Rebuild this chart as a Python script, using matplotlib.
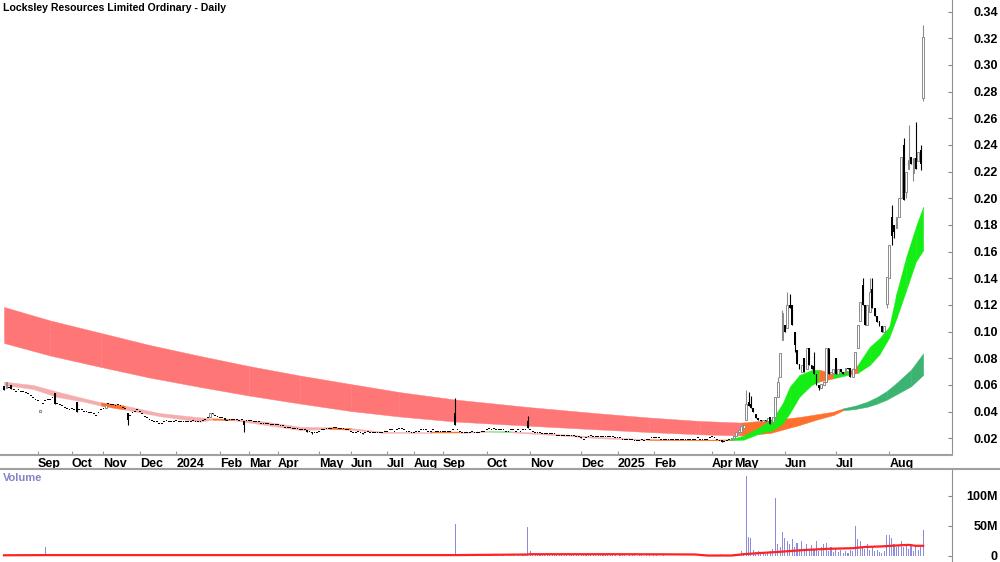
import numpy as np
import matplotlib.pyplot as plt
from matplotlib.lines import Line2D

plt.rcParams['font.family'] = ['Liberation Sans', 'DejaVu Sans']
plt.rcParams['font.weight'] = 'bold'

# daily closes, one per traded session (Aug 2023 -> Aug 2025)
closes = [
    0.056, 0.062, 0.058, 0.057, 0.056, 0.055, 0.056, 0.055, 0.055, 0.054,
    0.053, 0.052, 0.050, 0.049, 0.048, 0.041, 0.046, 0.048, 0.049, 0.049,
    0.050, 0.046, 0.046, 0.045, 0.044, 0.043, 0.042, 0.041, 0.042, 0.041,
    0.040, 0.041, 0.041, 0.040, 0.040, 0.039, 0.039, 0.038, 0.037, 0.039,
    0.041, 0.042, 0.045, 0.046, 0.045, 0.045, 0.044, 0.045, 0.044, 0.043,
    0.042, 0.034, 0.037, 0.039, 0.040, 0.041, 0.040, 0.038, 0.036, 0.035,
    0.034, 0.033, 0.032, 0.032, 0.031, 0.031, 0.032, 0.033, 0.032, 0.032,
    0.032, 0.033, 0.032, 0.032, 0.032, 0.032, 0.032, 0.032, 0.033, 0.032,
    0.032, 0.032, 0.033, 0.034, 0.035, 0.039, 0.038, 0.037, 0.036, 0.035,
    0.035, 0.034, 0.033, 0.034, 0.034, 0.034, 0.034, 0.033, 0.034, 0.030,
    0.033, 0.033, 0.033, 0.032, 0.032, 0.032, 0.031, 0.031, 0.031, 0.031,
    0.030, 0.030, 0.030, 0.030, 0.029, 0.029, 0.028, 0.028, 0.028, 0.027,
    0.027, 0.027, 0.026, 0.026, 0.026, 0.025, 0.025, 0.024, 0.024, 0.024,
    0.025, 0.026, 0.026, 0.027, 0.027, 0.027, 0.028, 0.028, 0.027, 0.027,
    0.027, 0.026, 0.026, 0.025, 0.024, 0.024, 0.025, 0.024, 0.023, 0.024,
    0.025, 0.024, 0.024, 0.024, 0.024, 0.024, 0.024, 0.025, 0.025, 0.026,
    0.026, 0.025, 0.026, 0.027, 0.027, 0.026, 0.025, 0.025, 0.024, 0.024,
    0.025, 0.025, 0.026, 0.026, 0.026, 0.025, 0.025, 0.026, 0.025, 0.025,
    0.025, 0.025, 0.025, 0.025, 0.025, 0.026, 0.030, 0.026, 0.025, 0.024,
    0.024, 0.024, 0.024, 0.025, 0.024, 0.024, 0.024, 0.025, 0.025, 0.026,
    0.027, 0.026, 0.027, 0.026, 0.026, 0.026, 0.026, 0.025, 0.025, 0.026,
    0.026, 0.025, 0.026, 0.025, 0.026, 0.026, 0.028, 0.026, 0.025, 0.024,
    0.024, 0.024, 0.023, 0.023, 0.023, 0.023, 0.023, 0.023, 0.022, 0.022,
    0.022, 0.022, 0.022, 0.022, 0.022, 0.022, 0.021, 0.021, 0.020, 0.019,
    0.020, 0.021, 0.022, 0.021, 0.021, 0.021, 0.021, 0.021, 0.021, 0.021,
    0.021, 0.021, 0.020, 0.020, 0.020, 0.019, 0.019, 0.019, 0.019, 0.019,
    0.018, 0.018, 0.018, 0.019, 0.018, 0.019, 0.019, 0.020, 0.020, 0.020,
    0.020, 0.019, 0.019, 0.019, 0.019, 0.019, 0.019, 0.019, 0.019, 0.019,
    0.019, 0.019, 0.019, 0.019, 0.019, 0.019, 0.020, 0.019, 0.019, 0.019,
    0.019, 0.020, 0.021, 0.020, 0.019, 0.018, 0.017, 0.017, 0.018, 0.019,
    0.020, 0.022, 0.025, 0.026, 0.029, 0.030, 0.046, 0.044, 0.043, 0.040,
    0.035, 0.034, 0.033, 0.034, 0.033, 0.035, 0.031, 0.036, 0.051, 0.062,
    0.084, 0.114, 0.100, 0.120, 0.118, 0.105, 0.090, 0.076, 0.072, 0.075,
    0.070, 0.088, 0.075, 0.072, 0.068, 0.060, 0.058, 0.061, 0.062, 0.088,
    0.068, 0.070, 0.072, 0.068, 0.072, 0.070, 0.068, 0.073, 0.072, 0.066,
    0.072, 0.085, 0.105, 0.122, 0.120, 0.105, 0.120, 0.130, 0.118, 0.112,
    0.107, 0.104, 0.100, 0.104, 0.141, 0.165, 0.172, 0.175, 0.186, 0.200,
    0.231, 0.199, 0.220, 0.229, 0.226, 0.230, 0.222, 0.235, 0.226, 0.321,
]

# opens for sessions with a real body (others are flat dashes)
opens = {
    0: 0.059, 1: 0.058, 3: 0.060, 15: 0.040, 21: 0.054, 30: 0.047, 42: 0.043,
    51: 0.039, 85: 0.036, 86: 0.039, 91: 0.035, 99: 0.033, 125: 0.026,
    127: 0.025, 148: 0.024, 186: 0.039, 216: 0.033, 238: 0.021, 296: 0.019,
    300: 0.019, 301: 0.020, 302: 0.022, 303: 0.025, 304: 0.025, 305: 0.028,
    306: 0.034, 307: 0.047, 308: 0.046, 309: 0.043, 310: 0.038, 311: 0.035,
    312: 0.034, 313: 0.032, 314: 0.034, 315: 0.033, 316: 0.036, 317: 0.032,
    318: 0.036, 319: 0.051, 320: 0.066, 321: 0.094, 322: 0.105, 323: 0.103,
    324: 0.120, 325: 0.120, 326: 0.100, 327: 0.086, 328: 0.076, 329: 0.070,
    330: 0.080, 331: 0.072, 332: 0.088, 333: 0.075, 334: 0.074, 335: 0.068,
    336: 0.060, 337: 0.058, 338: 0.060, 339: 0.062, 340: 0.088, 341: 0.068,
    342: 0.069, 343: 0.080, 344: 0.068, 345: 0.072, 346: 0.070, 347: 0.068,
    348: 0.073, 349: 0.073, 350: 0.066, 351: 0.072, 352: 0.088, 353: 0.108,
    354: 0.135, 355: 0.120, 356: 0.105, 357: 0.115, 358: 0.132, 359: 0.118,
    360: 0.112, 361: 0.108, 362: 0.104, 363: 0.100, 364: 0.121, 365: 0.140,
    366: 0.186, 367: 0.180, 368: 0.178, 369: 0.186, 370: 0.200, 371: 0.240,
    372: 0.205, 373: 0.222, 374: 0.231, 375: 0.219, 376: 0.230, 377: 0.228,
    378: 0.236, 379: 0.275,
}
highs = {186: 0.050, 216: 0.037, 306: 0.056, 307: 0.055, 308: 0.052, 319: 0.066,
         321: 0.116, 323: 0.130, 324: 0.128, 334: 0.085, 354: 0.140, 357: 0.140,
         358: 0.140, 366: 0.195, 371: 0.245, 373: 0.255, 376: 0.257, 378: 0.240,
         379: 0.330}
lows = {51: 0.030, 99: 0.025, 127: 0.023, 326: 0.085, 336: 0.056, 364: 0.118,
        366: 0.165, 367: 0.170, 372: 0.200, 375: 0.213, 378: 0.221, 379: 0.273}

# volume in millions
volume_m = [
    1.0, 1.5, 0.8, 1.0, 0.5, 0.8, 0.5, 1.0, 0.6, 0.5, 0.8, 0.5, 0.9, 0.6, 1.0, 1.8, 2.5, 15, 1.2, 0.6,
    0.8, 1.2, 0.6, 0.5, 0.9, 0.5, 0.6, 1.0, 0.5, 0.6, 1.2, 0.5, 0.6, 0.4, 0.8, 0.5, 0.6, 0.5, 0.9, 0.6,
    0.7, 1.0, 1.5, 1.2, 0.8, 0.6, 0.9, 0.7, 0.6, 0.8, 0.9, 2.0, 1.0, 0.7, 0.6, 0.8, 0.5, 0.6, 0.7, 0.5,
    0.6, 0.5, 0.7, 0.4, 0.5, 0.6, 0.4, 0.5, 0.6, 0.4, 0.5, 0.6, 0.4, 0.5, 0.4, 0.6, 0.5, 0.4, 0.6, 0.5,
    0.4, 0.5, 0.6, 0.8, 1.0, 1.8, 1.0, 0.8, 0.6, 0.7, 0.9, 0.6, 0.5, 0.6, 0.5, 0.4, 0.6, 0.5, 0.7, 1.2,
    0.6, 0.5, 0.4, 0.6, 0.5, 0.4, 0.5, 0.6, 0.4, 0.5, 0.6, 0.4, 0.5, 0.4, 0.6, 0.5, 0.4, 0.5, 0.6, 0.4,
    0.5, 0.6, 0.4, 0.5, 0.6, 0.8, 0.5, 0.9, 0.6, 0.5, 0.7, 0.8, 0.6, 0.9, 0.6, 0.5, 0.8, 0.6, 0.5, 0.6,
    0.5, 0.6, 0.4, 0.5, 0.7, 0.5, 0.4, 0.6, 0.8, 0.5, 0.6, 0.4, 0.5, 0.6, 0.4, 0.5, 0.6, 0.5, 0.7, 0.9,
    0.8, 0.6, 0.7, 0.9, 0.6, 0.5, 0.6, 0.5, 0.7, 0.6, 0.5, 0.6, 0.8, 0.6, 0.5, 0.6, 0.5, 0.7, 0.6, 0.5,
    0.6, 0.5, 0.7, 0.6, 0.8, 1.0, 53, 3.0, 1.5, 1.0, 0.8, 0.9, 0.6, 0.8, 0.7, 0.6, 0.9, 0.7, 0.8, 1.2,
    1.5, 1.0, 1.2, 0.9, 0.8, 1.0, 0.9, 0.7, 0.8, 1.0, 0.9, 0.8, 1.0, 0.7, 0.9, 1.2, 48, 8.0, 4.0, 3.0,
    2.0, 1.5, 1.8, 1.2, 1.5, 1.0, 1.2, 1.4, 1.0, 1.3, 1.1, 1.0, 1.2, 0.9, 1.0, 1.3, 1.1, 1.2, 1.5, 1.8,
    1.2, 1.0, 1.4, 1.1, 1.0, 1.2, 0.9, 1.1, 1.0, 1.2, 0.9, 1.0, 1.1, 0.8, 1.0, 0.9, 1.2, 0.8, 1.0, 0.9,
    1.0, 0.8, 0.9, 1.1, 0.8, 1.0, 0.9, 0.8, 1.0, 0.9, 0.8, 0.7, 0.9, 0.8, 0.6, 0.7, 0.8, 0.6, 0.7, 0.5,
    0.6, 0.5, 0.7, 0.5, 0.6, 0.4, 0.5, 0.6, 0.4, 0.5, 0.6, 0.4, 0.5, 0.8, 0.6, 1.0, 3.0, 1.5, 1.0, 1.2,
    2, 3, 2, 4, 8, 5, 133, 32, 30, 10, 6, 8, 4, 6, 3, 5, 8, 12, 96, 20,
    15, 40, 30, 25, 20, 28, 15, 22, 12, 25, 10, 20, 12, 18, 10, 25, 8, 15, 20, 22,
    8, 15, 6, 12, 6, 10, 5, 8, 5, 10, 8, 50, 28, 25, 15, 12, 20, 10, 15, 8,
    10, 6, 5, 8, 35, 35, 30, 20, 15, 18, 25, 15, 18, 12, 20, 8, 18, 10, 15, 43,
]

# volume average (red line), read at a few sessions
vol_avg_bar = [0, 17, 186, 216, 217, 250, 272, 285, 290, 300, 305, 312, 320, 330, 340, 350, 355, 362, 370, 373, 376, 379]
vol_avg_m = [1.2, 1.5, 1.5, 2.5, 3.0, 3.0, 2.8, 2.5, 0.8, 0.8, 3.0, 5.0, 7.0, 10.0, 12.0, 13.0, 15.0, 16.0, 18.0, 18.5, 17.0, 17.0]

# short-term MA ribbon
fast_bar = [0, 12, 22, 33, 40, 50, 64, 81, 86, 95, 108, 122, 134, 143, 156, 176, 188, 200, 209, 229,
            246, 266, 287, 299, 305, 312, 317, 321, 324, 328, 333, 336, 342, 349, 352, 357, 361, 365, 368, 372,
            376, 379]
fast_top = [0.0625, 0.060, 0.055, 0.050, 0.047, 0.0445, 0.039, 0.0357, 0.035, 0.0345,
            0.0325, 0.0287, 0.0283, 0.0277, 0.025, 0.0245, 0.0245, 0.0255, 0.0253, 0.0232,
            0.021, 0.0193, 0.019, 0.0192, 0.022, 0.0287, 0.035, 0.046, 0.0587, 0.0675,
            0.0712, 0.0715, 0.0687, 0.071, 0.075, 0.0887, 0.095, 0.1037, 0.1288, 0.156,
            0.1787, 0.1937]
fast_bot = [0.060, 0.057, 0.051, 0.0475, 0.0445, 0.0415, 0.0367, 0.0325, 0.034, 0.0335,
            0.030, 0.0262, 0.027, 0.0265, 0.0242, 0.024, 0.024, 0.025, 0.0245, 0.0222,
            0.020, 0.0187, 0.0185, 0.0185, 0.019, 0.024, 0.026, 0.031, 0.0388, 0.0512,
            0.060, 0.0625, 0.065, 0.068, 0.069, 0.075, 0.083, 0.0955, 0.110, 0.131,
            0.1525, 0.161]
fast_state = 'ppppopppopppoppoplpppooggggggggogoggggggg'

# long-term MA ribbon
slow_bar = [0, 19, 40, 60, 81, 101, 122, 143, 163, 186, 216, 246, 266, 287, 304,
            316, 328, 335, 342, 346, 351, 356, 360, 364, 368, 374, 379]
slow_top = [0.1185, 0.1084, 0.0990, 0.0900, 0.0817, 0.0742, 0.0671, 0.0607, 0.0547, 0.0491,
            0.0435, 0.0386, 0.0356, 0.0330, 0.0318, 0.0337, 0.036, 0.038, 0.040, 0.0425,
            0.0445, 0.0475, 0.051, 0.0555, 0.0615, 0.0715, 0.0837]
slow_bot = [0.0915, 0.0821, 0.0735, 0.0656, 0.0585, 0.0521, 0.0461, 0.0405, 0.0364, 0.0326,
            0.0295, 0.0266, 0.0247, 0.0230, 0.0221, 0.024, 0.030, 0.034, 0.0375, 0.041,
            0.042, 0.0437, 0.046, 0.049, 0.053, 0.059, 0.0675]
slow_state = 'rrrrrrrrrrrrrrooooodddddddd'[:26]

month_bar = [14, 28, 41, 56, 71, 89, 101, 113, 130, 143, 158, 169, 181, 199, 217, 238, 253, 268, 292, 301, 322, 343, 365]
month_lbl = ['Sep', 'Oct', 'Nov', 'Dec', '2024', 'Feb', 'Mar', 'Apr', 'May', 'Jun', 'Jul', 'Aug',
             'Sep', 'Oct', 'Nov', 'Dec', '2025', 'Feb', 'Apr', 'May', 'Jun', 'Jul', 'Aug']

state_colors = {'p': '#f5aeae', 'o': '#ff6f2e', 'g': '#14ee14', 'l': '#7ede7e',
                'r': '#ff7676', 'd': '#3cb371'}

W, H = 1000, 562
fig = plt.figure(figsize=(10, 5.62), dpi=100)
ax = fig.add_axes([0, 107 / H, 952 / W, 455 / H])
axv = fig.add_axes([0, 0, 952 / W, 93 / H])

xlim = (-1.65, 390.9)

# ribbons
for bars, top, bot, state in [(slow_bar, slow_top, slow_bot, slow_state),
                              (fast_bar, fast_top, fast_bot, fast_state)]:
    for k, s in enumerate(state):
        col = state_colors[s]
        ax.fill_between(bars[k:k + 2], top[k:k + 2], bot[k:k + 2], facecolor=col,
                        edgecolor=col, lw=0.3, zorder=1)

# candles
c = np.array(closes)
n = len(c)
idx = np.arange(n)
o = np.array([opens.get(i, c[i]) for i in range(n)])
hi = np.array([highs.get(i, max(o[i], c[i])) for i in range(n)])
lo = np.array([lows.get(i, min(o[i], c[i])) for i in range(n)])
up = c > o
dn = ~up

ax.vlines(idx[up], lo[up], hi[up], color='#8a8a8a', lw=0.8, zorder=3)
ax.vlines(idx[dn], lo[dn], hi[dn], color='black', lw=0.8, zorder=3)
ax.bar(idx[up], (c - o)[up], bottom=o[up], width=0.75, facecolor='white',
       edgecolor='#8a8a8a', lw=0.7, zorder=4)
ax.bar(idx[dn], np.maximum(o - c, 0.0008)[dn], bottom=c[dn], width=0.75,
       color='black', lw=0, zorder=4)

ax.set_xlim(*xlim)
ax.set_ylim(0.0075, 0.3487)
ax.yaxis.tick_right()
price_ticks = np.round(np.arange(0.02, 0.341, 0.02), 2)
ax.set_yticks(price_ticks)
ax.set_yticklabels([f'{v:.2f}' for v in price_ticks])
ax.tick_params(axis='y', direction='in', length=3, color='#888888', pad=33, labelsize=9)
for t in ax.get_yticklabels():
    t.set_horizontalalignment('right')
ax.set_xticks(month_bar)
ax.set_xticklabels(month_lbl, ha='left')
ax.tick_params(axis='x', direction='in', length=3, color='#999999', pad=2, labelsize=9)
for side in ['top', 'left']:
    ax.spines[side].set_visible(False)
ax.spines['bottom'].set_color('#a0a0a0')
ax.spines['bottom'].set_linewidth(1.5)
ax.spines['right'].set_color('#909090')

# volume panel
axv.bar(idx, volume_m, width=0.45, color='#8c8cdc', lw=0, zorder=2)
axv.plot(vol_avg_bar, vol_avg_m, color='#ff2222', lw=1.6, zorder=3)
axv.set_xlim(*xlim)
axv.set_ylim(-10, 145)
axv.yaxis.tick_right()
axv.set_yticks([0, 50, 100])
axv.set_yticklabels(['0', '50M', '100M'])
axv.tick_params(axis='y', direction='in', length=3, color='#888888', pad=33, labelsize=9)
for t in axv.get_yticklabels():
    t.set_horizontalalignment('right')
axv.set_xticks([])
for side in ['top', 'left', 'bottom']:
    axv.spines[side].set_visible(False)
axv.spines['right'].set_color('#909090')

fig.add_artist(Line2D([0, 1], [93 / H, 93 / H], color='#a0a0a0', lw=1.5))

fig.text(3 / W, 1 - 8 / H, 'Locksley Resources Limited Ordinary - Daily',
         fontsize=7.6, fontweight='bold', va='center', ha='left')
fig.text(3 / W, 1 - 478 / H, 'Volume', fontsize=8, fontweight='bold',
         color='#8484c8', va='center', ha='left')

fig.savefig('out.png', dpi=100)
